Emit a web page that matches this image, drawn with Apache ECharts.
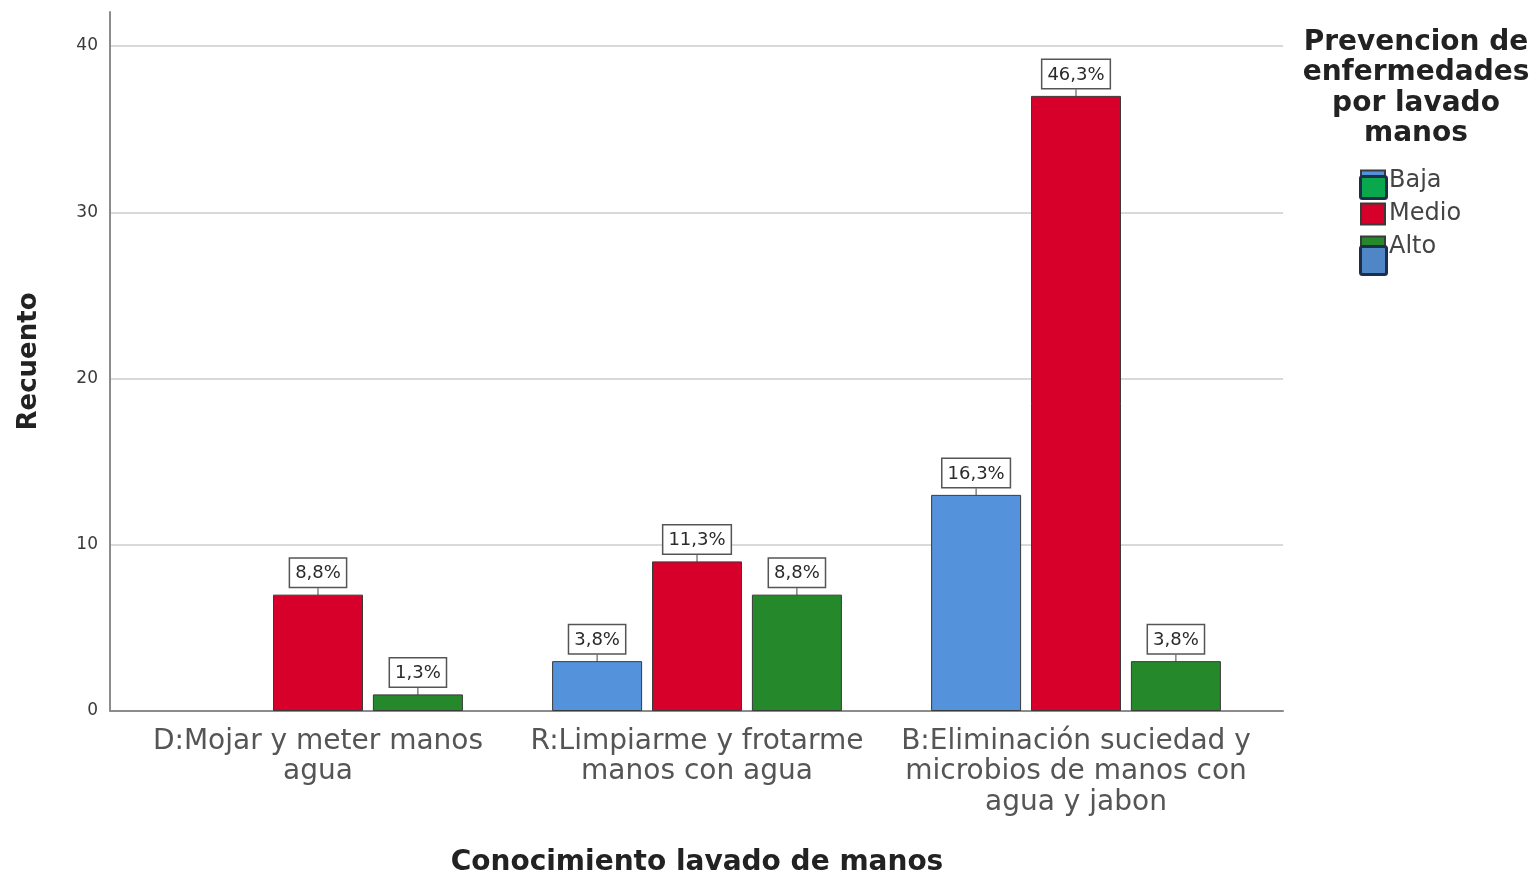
<!DOCTYPE html>
<html>
<head>
<meta charset="utf-8">
<style>
  html, body { margin: 0; padding: 0; background: #fff; }
  #chart { width: 1530px; height: 877px; }
</style>
<script src="https://cdn.jsdelivr.net/npm/echarts@6/dist/echarts.min.js"></script>
</head>
<body>
<div id="chart"></div>
<script>
// Counts per knowledge answer, split by prevention level
const categories = [
  'D:Mojar y meter manos\nagua',
  'R:Limpiarme y frotarme\nmanos con agua',
  'B:Eliminación suciedad y\nmicrobios de manos con\nagua y jabon'
];
const seriesNames = ['Baja', 'Medio', 'Alto'];
const baja = [0, 3, 13];
const medio = [7, 9, 37];
const alto = [1, 7, 3];
const yTicks = [0, 10, 20, 30, 40];

const colors = ['#5592dc', '#d7002b', '#25882a'];
const total = [...baja, ...medio, ...alto].reduce((a, b) => a + b, 0);

function pctLabel(p) {
  return (p.value / total * 100).toFixed(1).replace('.', ',') + '%';
}

const FONT = '"DejaVu Sans", "Liberation Sans", Arial, sans-serif';

// empty cells get no bar outline and no label
function cells(data) {
  return data.map(v => v === 0
    ? { value: 0, label: { show: false }, labelLine: { show: false }, itemStyle: { borderWidth: 0 } }
    : v);
}

function barSeries(name, data, idx) {
  return {
    name: name,
    type: 'bar',
    xAxisIndex: 1,
    yAxisIndex: 1,
    data: cells(data),
    barWidth: 90,
    barGap: '11%',
    itemStyle: { color: colors[idx], borderColor: '#3a3a3a', borderWidth: 1 },
    label: {
      show: true,
      position: 'top',
      distance: 0,
      formatter: pctLabel,
      fontFamily: FONT,
      fontSize: 18,
      color: '#2a2a2a',
      backgroundColor: '#fff',
      borderColor: '#555',
      borderWidth: 1.5,
      padding: [6, 5, 4, 5]
    },
    labelLayout: { dy: -8 },
    labelLine: { show: true, lineStyle: { color: '#444', width: 1 } },
    emphasis: { disabled: true }
  };
}

const chart = echarts.init(document.getElementById('chart'), null, { renderer: 'canvas' });

chart.setOption({
  animation: false,
  backgroundColor: '#fff',
  color: colors,
  title: {
    text: 'Prevencion de\nenfermedades\npor lavado\nmanos',
    left: 1411,
    top: 22,
    textAlign: 'center',
    textStyle: {
      fontFamily: FONT, fontSize: 28, fontWeight: 'bold', color: '#222', lineHeight: 30.5,
      align: 'center'
    }
  },
  legend: {
    orient: 'vertical',
    left: 1355,
    top: 164,
    itemWidth: 24,
    itemHeight: 21,
    itemGap: 9,
    data: seriesNames,
    icon: 'rect',
    textStyle: { fontFamily: FONT, fontSize: 24, lineHeight: 22, color: '#444', padding: [0, 0, 0, -1] },
    selectedMode: false
  },
  grid: [
    // frame: gridlines and axis lines
    { left: 110, top: 46, width: 1173, height: 665, outerBoundsMode: 'none' },
    // bars
    { left: 128.5, top: 46, width: 1137, height: 665, outerBoundsMode: 'none' },
    // tall y-axis line
    { left: 110, top: 12, width: 1173, height: 699, outerBoundsMode: 'none' }
  ],
  xAxis: [
    {
      gridIndex: 0, type: 'value', min: 0, max: 1,
      axisLine: { show: true, lineStyle: { color: '#8c8c8c', width: 2 } },
      axisTick: { show: false }, axisLabel: { show: false }, splitLine: { show: false }
    },
    {
      gridIndex: 1, type: 'category', data: categories,
      name: 'Conocimiento lavado de manos',
      nameLocation: 'middle',
      nameGap: 138,
      nameTextStyle: { fontFamily: FONT, fontSize: 28, fontWeight: 'bold', color: '#222' },
      axisLine: { show: false }, axisTick: { show: false },
      axisLabel: {
        fontFamily: FONT, fontSize: 28, color: '#555', lineHeight: 30.5, margin: 15,
        interval: 0
      }
    },
    {
      gridIndex: 2, type: 'value', show: false
    }
  ],
  yAxis: [
    {
      gridIndex: 0, type: 'value', min: yTicks[0], max: yTicks[yTicks.length - 1], interval: 10,
      axisLine: { show: false }, axisTick: { show: false },
      axisLabel: { fontFamily: FONT, fontSize: 17, color: '#3a3a3a', margin: 12 },
      splitLine: { show: true, lineStyle: { color: '#d9d9d9', width: 2 } }
    },
    {
      gridIndex: 1, type: 'value', min: yTicks[0], max: yTicks[yTicks.length - 1], interval: 10,
      show: false
    },
    {
      gridIndex: 2, type: 'value', min: 0, max: 1,
      name: 'Recuento',
      nameLocation: 'middle',
      nameGap: 68,
      nameTextStyle: { fontFamily: FONT, fontSize: 26, fontWeight: 'bold', color: '#222' },
      axisLine: { show: true, lineStyle: { color: '#8c8c8c', width: 2 } },
      axisTick: { show: false }, axisLabel: { show: false }, splitLine: { show: false }
    }
  ],
  series: [
    barSeries(seriesNames[0], baja, 0),
    barSeries(seriesNames[1], medio, 1),
    barSeries(seriesNames[2], alto, 2)
  ],
  graphic: [
    {
      type: 'rect', left: 1359, top: 175,
      shape: { width: 26, height: 22, r: 2 },
      style: { fill: '#0aa84c', stroke: '#1d2e4a', lineWidth: 3 },
      z: 100
    },
    {
      type: 'rect', left: 1359, top: 245,
      shape: { width: 26, height: 28, r: 2 },
      style: { fill: '#4f86c6', stroke: '#1d2e4a', lineWidth: 3 },
      z: 100
    }
  ]
});
</script>
</body>
</html>
